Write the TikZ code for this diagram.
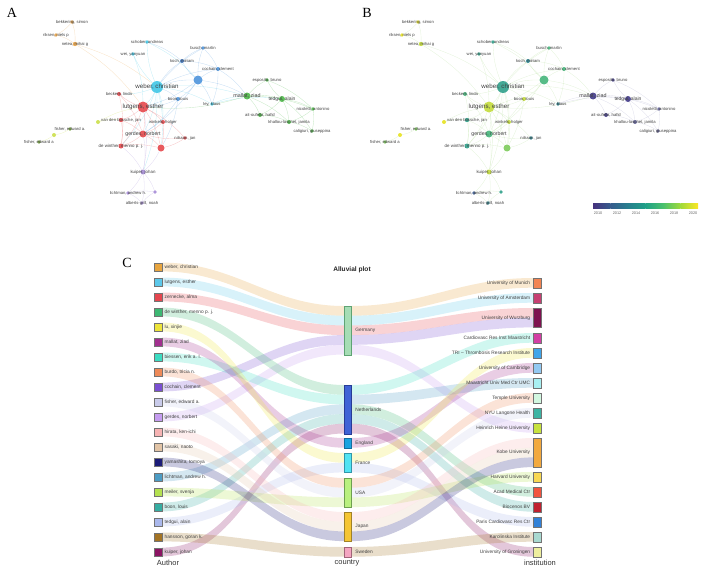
\documentclass[tikz,border=0pt]{standalone}
\usepackage{fontspec}
\setmainfont{Liberation Sans}
\newfontfamily\panelfont{Liberation Serif}
\usetikzlibrary{positioning,calc,backgrounds}

% network clusters (A)
\definecolor{corg}{HTML}{E9A448}
\definecolor{ccyan}{HTML}{3FC6E6}
\definecolor{cblue}{HTML}{4D94DB}
\definecolor{cdblue}{HTML}{3A6FB5}
\definecolor{cred}{HTML}{E5484D}
\definecolor{clime}{HTML}{CBDF4A}
\definecolor{colive}{HTML}{74A43A}
\definecolor{cpur}{HTML}{A58BD6}
\definecolor{cgrn}{HTML}{4DB848}
% overlay years (B)
\definecolor{vy1}{HTML}{E6E21F}
\definecolor{vy2}{HTML}{C3DC3A}
\definecolor{vg1}{HTML}{7CCB5A}
\definecolor{vg2}{HTML}{45B57A}
\definecolor{vt1}{HTML}{2FA08A}
\definecolor{vt2}{HTML}{25808D}
\definecolor{vb1}{HTML}{3A5A8C}
\definecolor{vp1}{HTML}{413A8A}
\definecolor{vp2}{HTML}{5E5E94}
\definecolor{bedge}{HTML}{A9D98A}
\definecolor{bedgep}{HTML}{9C9CC4}
\definecolor{v0}{HTML}{46327E}
\definecolor{v1}{HTML}{365C8D}
\definecolor{v2}{HTML}{277F8E}
\definecolor{v3}{HTML}{1FA187}
\definecolor{v4}{HTML}{4AC16D}
\definecolor{v5}{HTML}{A0DA39}
\definecolor{v6}{HTML}{FDE725}
% authors
\definecolor{al1}{HTML}{E8A53F}
\definecolor{al2}{HTML}{5CC8EA}
\definecolor{al3}{HTML}{E5464F}
\definecolor{al4}{HTML}{3DB873}
\definecolor{al5}{HTML}{EDE43A}
\definecolor{al6}{HTML}{A2308F}
\definecolor{al7}{HTML}{3CDCC2}
\definecolor{al8}{HTML}{EE8A58}
\definecolor{al9}{HTML}{7A4FD2}
\definecolor{al10}{HTML}{C9CBEA}
\definecolor{al11}{HTML}{C59CF0}
\definecolor{al12}{HTML}{F6B3B3}
\definecolor{al13}{HTML}{E2C4A6}
\definecolor{al14}{HTML}{1C1C78}
\definecolor{al15}{HTML}{4C9CC4}
\definecolor{al16}{HTML}{B4E150}
\definecolor{al17}{HTML}{36ADA2}
\definecolor{al18}{HTML}{AAB8EC}
\definecolor{al19}{HTML}{A47424}
\definecolor{al20}{HTML}{8C1463}

\tikzstyle{vertex}=[circle,inner sep=0pt,draw=none,fill opacity=0.9]
\tikzstyle{vlabel}=[inner sep=0pt,text=black!75]
\tikzstyle{edge}=[draw,line width=0.35pt,opacity=0.3]
\tikzstyle{panel}=[font=\panelfont\fontsize{14}{14}\selectfont,inner sep=0pt]
\tikzstyle{abox}=[rectangle,minimum width=7.5pt,minimum height=8.5pt,inner sep=0pt,draw=black!55,line width=0.3pt]
\tikzstyle{cbox}=[rectangle,minimum width=7pt,inner sep=0pt,line width=0.5pt,anchor=north]
\tikzstyle{ibox}=[rectangle,minimum width=8pt,inner sep=0pt,draw=black!55,line width=0.3pt,anchor=north]
\tikzstyle{alabel}=[font=\fontsize{4.8}{5}\selectfont,text=black!75,inner sep=0pt]
\tikzstyle{axlabel}=[font=\fontsize{7.5}{8}\selectfont,text=black!80,inner sep=0pt]
\tikzstyle{band}=[opacity=0.24]

\newcommand{\flowband}[5]{\fill[band,#5] (#1) to[out=0,in=180] (#3) -- (#4) to[out=180,in=0] (#2) -- cycle;}

\begin{document}
\begin{tikzpicture}[x=1pt,y=-1pt]
\useasboundingbox (0,0) rectangle (705,570);

\node[panel] (lblA) at (12,13) {A};
\node[panel] (lblB) at (367,13) {B};
\node[panel] (lblC) at (127,263) {C};

% co-authorship maps
\foreach \n/\x/\y/\r/\ca/\cb/\fs/\lab in {
  bek/72/22/1.8/corg/vy1/4.2/{bekkering, simon},
  rik/56/35/1.8/corg/vy1/4.2/{riksen, niels p},
  net/75/44/2.2/corg/vy2/4.2/{netea, mihai g},
  sch/147/42/1.8/ccyan/vt1/4.2/{schober, andreas},
  wei/133/54/1.8/ccyan/vt1/4.2/{wei, yanyuan},
  bus/203/48/1.8/cblue/vg2/4.2/{busch, martin},
  koc/182/61/2/cdblue/vt2/4.2/{koch, miriam},
  coc/218/69/2/cblue/vg2/4.2/{cochain, clement},
  big/198/80/4.5/cblue/vg2/4.2/{},
  web/157/87/6/ccyan/vt1/6.2/{weber, christian},
  boo/178/99/2/cblue/vy2/4.2/{boon, louis},
  ley/212/104/1.8/ccyan/vt2/4.2/{ley, klaus},
  bec/119/94/2/cred/vg2/4.2/{beckers, linda},
  lut/143/107/5.5/cred/vy2/6.2/{lutgens, esther},
  vdb/121/120/2.2/cred/vt1/4.2/{van den bossche, jan},
  lmo/98/122/2/clime/vy1/4.2/{},
  win/163/122/2/cred/vy2/4.2/{winkels, holger},
  ger/143/134/3.5/cred/vg2/5.2/{gerdes, norbert},
  nil/185/138/1.8/cred/vt2/4.2/{nilsson, jan},
  rdn/161/148/3.5/cred/vg1/4.2/{},
  dwi/121/146/2.5/cred/vt1/4.4/{de winther, menno p. j.},
  fia/70/129/1.8/colive/vg1/4.2/{fisher, edward a.},
  lmt/54/135/2/clime/vy1/4.2/{},
  fib/39/142/1.8/colive/vg1/4.2/{fisher, edward a},
  kui/143/172/2.5/cpur/vy2/4.4/{kuiper, johan},
  lic/128/193/1.8/cpur/vb1/4.2/{lichtman, andrew h.},
  pun/155/192/1.8/cpur/vt1/4.2/{},
  alb/142/203/1.8/cpur/vt2/4.2/{alberts-grill, noah},
  mal/247/96/3.5/cgrn/vp1/5.4/{mallat, ziad},
  esp/267/80/1.8/cgrn/vp1/4.2/{esposito, bruno},
  ted/282/99/3/cgrn/vp1/5/{tedgui, alain},
  nic/313/109/1.8/cgrn/vp2/4.2/{nicoletti, antonino},
  ait/260/115/2/cgrn/vp1/4.2/{ait-oufella, hafid},
  kha/289/122/2/cgrn/vp2/4.2/{khallou-laschet, jamila},
  cal/312/131/1.8/cgrn/vp2/4.2/{caligiuri, giuseppina}}{
  \node[vertex,minimum size=2*\r pt,fill=\ca] (A-\n) at (\x,\y) {};
  \node[vlabel,font=\fontsize{\fs}{\fs}\selectfont] (A-\n-l) at (A-\n) {\lab};
  \node[vertex,minimum size=2*\r pt,fill=\cb] (B-\n) at (\x+346,\y) {};
  \node[vlabel,font=\fontsize{\fs}{\fs}\selectfont] (B-\n-l) at (B-\n) {\lab};
}

\begin{scope}[on background layer]
\foreach \u/\v/\ea/\eb in {
  bek/rik/corg/bedge, bek/net/corg/bedge, rik/net/corg/bedge, net/web/corg/bedge, net/lut/corg/bedge,
  web/sch/ccyan/bedge, web/wei/ccyan/bedge, web/koc/cblue/bedge, web/bus/cblue/bedge, web/coc/cblue/bedge,
  web/big/cblue/bedge, web/boo/cblue/bedge, web/ley/ccyan/bedge, web/lut/ccyan/bedge, web/ger/ccyan/bedge,
  web/dwi/ccyan/bedge, web/bec/ccyan/bedge, web/win/ccyan/bedge, web/rdn/ccyan/bedge, web/kui/ccyan/bedge,
  web/mal/ccyan/bedge, big/koc/cblue/bedge, big/bus/cblue/bedge, big/coc/cblue/bedge, big/boo/cblue/bedge,
  big/ley/cblue/bedge, big/mal/cblue/bedge, big/lut/cblue/bedge, big/ger/cblue/bedge, koc/bus/cblue/bedge,
  koc/coc/cblue/bedge, bus/coc/cblue/bedge, sch/koc/cblue/bedge, sch/big/ccyan/bedge, wei/lut/ccyan/bedge,
  coc/ley/cblue/bedge, coc/mal/cblue/bedge, ley/mal/ccyan/bedgep, ley/ted/ccyan/bedgep, boo/lut/cblue/bedge,
  boo/ger/cblue/bedge, boo/rdn/cblue/bedge,
  lut/bec/cred/bedge, lut/vdb/cred/bedge, lut/win/cred/bedge, lut/ger/cred/bedge, lut/nil/cred/bedge,
  lut/dwi/cred/bedge, lut/rdn/cred/bedge, bec/ger/cred/bedge, bec/dwi/cred/bedge, vdb/ger/cred/bedge,
  vdb/dwi/cred/bedge, win/ger/cred/bedge, win/rdn/cred/bedge, ger/dwi/cred/bedge, ger/rdn/cred/bedge,
  dwi/rdn/cred/bedge, nil/rdn/cred/bedge, nil/ger/cred/bedge, rdn/kui/cpur/bedge, ger/kui/cpur/bedge,
  dwi/kui/cpur/bedge, lut/kui/cpur/bedge, lmo/vdb/clime/bedge, lmo/lut/clime/bedge, fia/lmt/clime/bedge,
  lmt/fib/clime/bedge, kui/lic/cpur/bedge, kui/alb/cpur/bedge, kui/pun/cpur/bedge, lic/alb/cpur/bedge,
  lic/pun/cpur/bedge, alb/pun/cpur/bedge,
  mal/esp/cgrn/bedgep, mal/ted/cgrn/bedgep, mal/ait/cgrn/bedgep, mal/kha/cgrn/bedgep, ted/esp/cgrn/bedgep,
  ted/nic/cgrn/bedgep, ted/ait/cgrn/bedgep, ted/kha/cgrn/bedgep, ted/cal/cgrn/bedgep, nic/cal/cgrn/bedgep,
  nic/kha/cgrn/bedgep, kha/cal/cgrn/bedgep, ait/kha/cgrn/bedgep, esp/nic/cgrn/bedgep, mal/lut/cgrn/bedge,
  mal/nic/cgrn/bedgep}{
  \path[edge,\ea] (A-\u) to[bend left=10] (A-\v);
  \path[edge,\eb] (B-\u) to[bend left=10] (B-\v);
}
\end{scope}

% year colour bar
\foreach \a/\b [count=\j from 0] in {v0/v1,v1/v2,v2/v3,v3/v4,v4/v5,v5/v6}{
  \shade[left color=\a,right color=\b] ({593+17.5*\j},203) rectangle ({610.7+17.5*\j},208);
}
\foreach \yr [count=\j from 0] in {2010,2012,...,2020}{
  \node[font=\fontsize{3.8}{4}\selectfont,text=black!60,inner sep=0pt] (yr\yr) at ({598+19*\j},213) {\yr};
}

% alluvial plot
\node[font=\bfseries\fontsize{6.6}{7}\selectfont,text=black!85,inner sep=0pt] (title) at (352,270) {Alluvial plot};

\foreach \i/\nm in {1/{weber, christian},2/{lutgens, esther},3/{zernecke, alma},4/{de winther, menno p. j.},
  5/{lu, xinjie},6/{mallat, ziad},7/{biessen, erik a. l.},8/{burdo, tricia n.},9/{cochain, clement},
  10/{fisher, edward a.},11/{gerdes, norbert},12/{hirata, ken-ichi},13/{sasaki, naoto},14/{yamashita, tomoya},
  15/{lichtman, andrew h.},16/{meiler, svenja},17/{boon, louis},18/{tedgui, alain},19/{hansson, goran k.},
  20/{kuiper, johan}}{
  \node[abox,fill=al\i] (au\i) at (158,{267+15*(\i-1)}) {};
  \node[alabel,right=2.5pt of au\i] (au\i-l) {\nm};
}

\node[cbox,fill={rgb,255:red,166;green,221;blue,181},draw={rgb,255:red,95;green,163;blue,116},minimum height=48.5pt] (ger) at (347.5,306) {};
\node[cbox,fill={rgb,255:red,63;green,99;blue,214},draw={rgb,255:red,40;green,60;blue,150},minimum height=48.5pt] (ned) at (347.5,385) {};
\node[cbox,fill={rgb,255:red,27;green,163;blue,224},draw={rgb,255:red,20;green,110;blue,160},minimum height=9.7pt] (eng) at (347.5,438) {};
\node[cbox,fill={rgb,255:red,82;green,227;blue,242},draw={rgb,255:red,50;green,150;blue,170},minimum height=19.4pt] (fra) at (347.5,453) {};
\node[cbox,fill={rgb,255:red,185;green,240;blue,127},draw={rgb,255:red,110;green,160;blue,80},minimum height=29.1pt] (usa) at (347.5,478) {};
\node[cbox,fill={rgb,255:red,245;green,197;blue,51},draw={rgb,255:red,160;green,130;blue,40},minimum height=29.1pt] (jpn) at (347.5,512) {};
\node[cbox,fill={rgb,255:red,244;green,165;blue,193},draw={rgb,255:red,160;green,100;blue,120},minimum height=9.7pt] (swe) at (347.5,547) {};
\foreach \c/\nm in {ger/Germany,ned/Netherlands,eng/England,fra/France,usa/USA,jpn/Japan,swe/Sweden}{
  \node[alabel,right=4pt of \c] (\c-l) {\nm};
}

\foreach \t/\y/\h/\col/\nm in {
  munich/278/9.7/F28452/University of Munich,
  amst/293/9.7/C63F72/University of Amsterdam,
  wurz/308/19.4/7E1250/University of Wurzburg,
  carim/333/9.7/D23FA4/Cardiovasc Res Inst Maastricht,
  tri/348/9.7/3FA5EA/TRI -- Thrombosis Research Institute,
  camb/363/9.7/93C9F2/University of Cambridge,
  mumc/378/9.7/A8F0F2/Maastricht Univ Med Ctr UMC,
  temple/393/9.7/D2F7E0/Temple University,
  nyu/408/9.7/3DB3A3/NYU Langone Health,
  hhu/423/9.7/C8E23F/Heinrich Heine University,
  kobe/438/29.1/F2A93F/Kobe University,
  harv/472/9.7/F8D853/Harvard University,
  amc/487/9.7/F2543F/Acad Medical Ctr,
  bioc/502/9.7/C0212F/Biocenos BV,
  paris/517/9.7/3181D8/Paris Cardiovasc Res Ctr,
  karo/532/9.7/A9D9D0/Karolinska Institute,
  gron/547/9.7/EEEE9E/University of Groningen}{
  \definecolor{tmp}{HTML}{\col}
  \node[ibox,fill=tmp,minimum height=\h pt] (\t) at (537,\y) {};
  \node[alabel,left=2.5pt of \t] (\t-l) {\nm};
}

\node[axlabel] (axA) at (168,563) {Author};
\node[axlabel] (axC) at (347,563) {country};
\node[axlabel] (axI) at (540,563) {institution};

\begin{scope}[on background layer]
\foreach \i/\c/\k in {1/ger/0,2/ger/1,3/ger/2,9/ger/3,11/ger/4,4/ned/0,7/ned/1,15/ned/2,17/ned/3,20/ned/4,
  6/eng/0,5/fra/0,18/fra/1,8/usa/0,10/usa/1,16/usa/2,12/jpn/0,13/jpn/1,14/jpn/2,19/swe/0}{
  \flowband{au\i.north east}{au\i.south east}{$(\c.north west)+(0,\k*9.7)$}{$(\c.north west)+(0,\k*9.7+9.7)$}{al\i}
}
\foreach \i/\c/\k/\t/\s in {1/ger/0/munich/0,2/ger/1/amst/0,3/ger/2/wurz/0,9/ger/3/wurz/1,11/ger/4/hhu/0,
  7/ned/0/carim/0,15/ned/1/mumc/0,4/ned/2/amc/0,17/ned/3/bioc/0,20/ned/4/gron/0,6/eng/0/camb/0,
  5/fra/0/tri/0,18/fra/1/paris/0,8/usa/0/temple/0,10/usa/1/nyu/0,16/usa/2/harv/0,
  12/jpn/0/kobe/0,13/jpn/1/kobe/1,14/jpn/2/kobe/2,19/swe/0/karo/0}{
  \flowband{$(\c.north east)+(0,\k*9.7)$}{$(\c.north east)+(0,\k*9.7+9.7)$}{$(\t.north west)+(0,\s*9.7)$}{$(\t.north west)+(0,\s*9.7+9.7)$}{al\i}
}
\end{scope}
\end{tikzpicture}
\end{document}
